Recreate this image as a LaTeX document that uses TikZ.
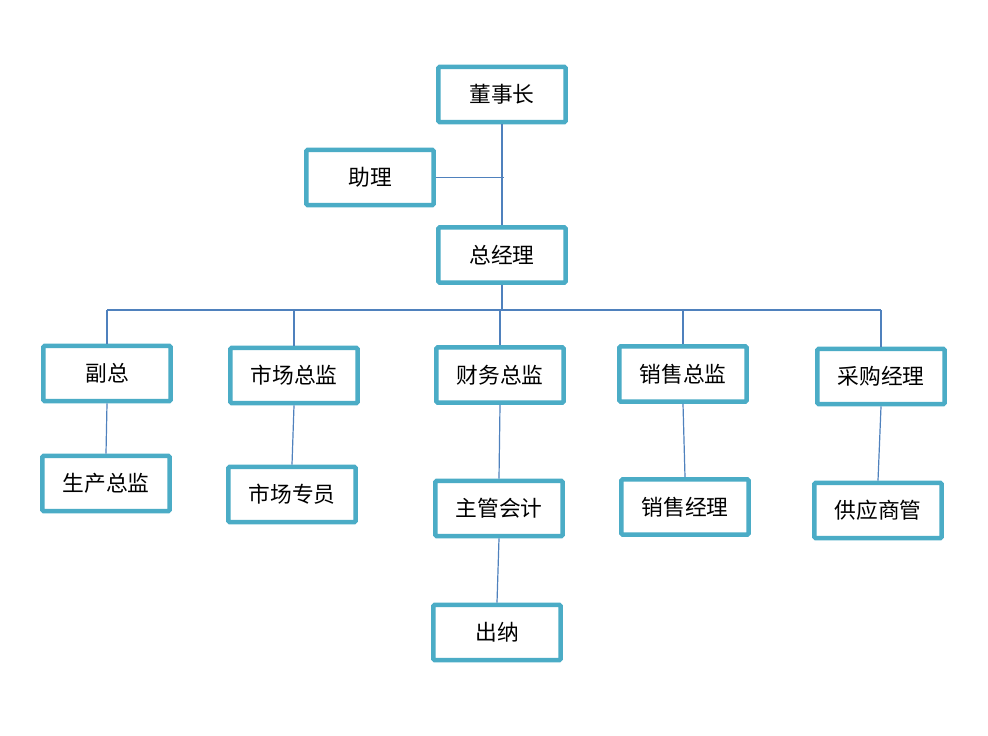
\documentclass[tikz,border=0pt]{standalone}
\usepackage{fontspec}
\setmainfont{Noto Sans CJK SC}
\usepackage{tikz}
\usetikzlibrary{positioning}
\definecolor{boxteal}{HTML}{4BACC6}
\definecolor{linkblue}{HTML}{4F81BD}

\begin{document}
\begin{tikzpicture}[x=0.75pt,y=-0.75pt]
\tikzset{font={\fontsize{16.3}{19}\selectfont}}
\tikzset{post/.style={draw=boxteal,line width=3.4pt,rounded corners=1pt,fill=white,
  minimum width=95.5pt,minimum height=41.5pt,inner sep=0pt}}
\tikzset{link/.style={draw=linkblue,line width=0.9pt}}
\useasboundingbox (0,0) rectangle (988,735);

%Top
\node[post] (dsz) at (502,94.5) {董事长};
\node[post] (zl) at (370,177.5) {助理};
\node[post] (zjl) at (502,255) {总经理};

%Directors
\node[post] (fz) at (107,373.5) {副总};
\node[post] (sczj) at (294,375.5) {市场总监};
\node[post] (cwzj) at (500,375) {财务总监};
\node[post] (xszj) at (683,374) {销售总监};
\node[post] (cgjl) at (881,376.5) {采购经理};

%Staff
\node[post] (sczj2) at (106,483.5) {生产总监};
\node[post] (sczy) at (292,494.5) {市场专员};
\node[post] (zgkj) at (499,508.5) {主管会计};
\node[post] (xsjl) at (685,507) {销售经理};
\node[post] (gysg) at (878,510.5) {供应商管};
\node[post] (cn) at (497,632.5) {出纳};

%Links
\coordinate (bus) at (502,310);
\draw[link] (dsz.south) -- (zjl.north);
\draw[link] (zl.east) -- ([xshift=1.5pt]zl.east -| dsz.south);
\draw[link] (zjl.south) -- (bus);
\draw[link] (fz.north |- bus) -- (cgjl.north |- bus);
\foreach \n in {fz,sczj,cwzj,xszj,cgjl}
\draw[link] (\n.north |- bus) -- (\n.north);

\draw[link] (fz.south) -- (sczj2.north);
\draw[link] (sczj.south) -- (sczy.north);
\draw[link] (cwzj.south) -- (zgkj.north);
\draw[link] (zgkj.south) -- (cn.north);
\draw[link] (xszj.south) -- (xsjl.north);
\draw[link] (cgjl.south) -- (gysg.north);

\end{tikzpicture}
\end{document}
